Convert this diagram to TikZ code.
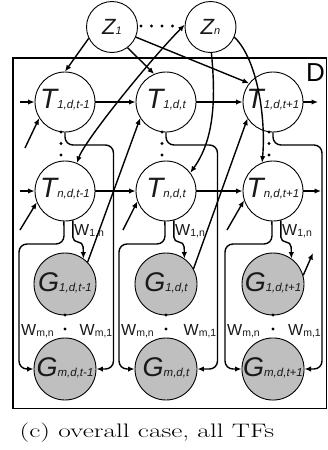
\documentclass[tikz,border=0pt]{standalone}
\usepackage{fontspec}
\newfontfamily\labfont{Liberation Sans}
\usetikzlibrary{arrows.meta}

% variable name: big italic letter followed by a small italic index
\newcommand\nodelab[4]{{\labfont\itshape\fontsize{#1}{#1}\selectfont #2}{\labfont\itshape\fontsize{#3}{#3}\selectfont #4}}
% edge weight label W with lowered index
\newcommand\wlab[1]{{\labfont\fontsize{16}{16}\selectfont W\raisebox{-1.3pt}{\fontsize{10.5}{10.5}\selectfont #1}}}

\begin{document}
\begin{tikzpicture}[x=1pt,y=-1pt,
  tnode/.style={circle,draw,line width=0.9pt,fill=white,minimum size=60pt,inner sep=0pt,
    text height=14pt,text depth=2pt,text=black!90},
  gnode/.style={circle,draw,line width=0.9pt,fill=black!25,minimum size=62pt,inner sep=0pt,
    text height=16pt,text depth=2pt,text=black!90},
  znode/.style={circle,draw,line width=0.9pt,fill=white,minimum size=51pt,inner sep=0pt,
    text height=14pt,text depth=0pt,text=black!90},
  edge/.style={line width=1.4pt,-{Latex[length=6.5pt,width=5.5pt]}},
  biedge/.style={line width=1.4pt,{Latex[length=6.5pt,width=5.5pt]}-{Latex[length=6.5pt,width=5.5pt]}},
  rail/.style={edge,rounded corners=8pt},
  wl/.style={inner sep=0pt,text=black!90}
]
\useasboundingbox (0,0) rectangle (328,450);

% plate D
\draw[line width=1.3pt] (13,58) rectangle (326.5,408.5);
\node[inner sep=0pt] (D) at (315.5,72.5) {\labfont\fontsize{26}{26}\selectfont D};

% hidden factors
\node[znode] (Z1) at (112,27) {\nodelab{22}{Z}{11}{1}};
\node[znode] (Zn) at (210.5,27) {\nodelab{22}{Z}{11}{n}};
\foreach \px in {141,151.5,162,172.5} \fill (\px,26) circle (1.6pt);

% time slices: TF nodes and gene nodes
\foreach \c/\x/\s in {a/65/{t-1}, b/166/t, c/273/{t+1}}{
  \node[tnode] (T1\c) at (\x,102) {\nodelab{28}{T}{11.5}{1,d,\s}};
  \node[tnode] (Tn\c) at (\x,191) {\nodelab{28}{T}{11.5}{n,d,\s}};
  \node[gnode] (G1\c) at (\x,284) {\nodelab{27}{G}{11.5}{1,d,\s}};
  \node[gnode] (Gm\c) at (\x,369) {\nodelab{27}{G}{11.5}{m,d,\s}};
  \fill (\x-4,132) circle (1.7pt) (\x-4,143.5) circle (1.7pt) (\x-4,155) circle (1.7pt);
  \fill (\x,315) circle (1.7pt) (\x,329) circle (1.7pt);
}

% regulation rails inside each slice
\foreach \c/\x/\l/\r in {a/65/19/113.5, b/166/119/217.5, c/273/225/322}{
  \draw[rail] (T1\c.south) -- (\x,145) -- (\r,145) -- (\r,369) -- (Gm\c.east);
  \draw[rail] (Tn\c.268) -- (\x-1,244) -- (\l,244) -- (\l,369) -- (Gm\c.west);
  \draw[rail,rounded corners=5pt] (Tn\c.-75) |- (\x+18,242) -- (G1\c.54.5);
  \node[wl,anchor=west] (w1n\c) at (\x+9,231) {\wlab{1,n}};
  \node[wl,anchor=west] (wmn\c) at (\l+2,331.5) {\wlab{m,n}};
  \node[wl,anchor=east] (wm1\c) at (\r-1,331.5) {\wlab{m,1}};
}

% temporal chains
\coordinate (in1) at (20,102);
\coordinate (out1) at (318,102);
\coordinate (inn) at (20,191);
\coordinate (outn) at (321,191);
\draw[edge] (in1) -- (T1a);
\draw[edge] (T1a) -- (T1b);
\draw[edge] (T1b) -- (T1c);
\draw[edge] (T1c) -- (out1);
\draw[edge] (inn) -- (Tna);
\draw[edge] (Tna) -- (Tnb);
\draw[edge] (Tnb) -- (Tnc);
\draw[edge] (Tnc) -- (outn);

% feedback from genes of the previous slice
\coordinate (s1a) at (25,148);
\coordinate (sna) at (20,230);
\coordinate (snb) at (123,230);
\coordinate (snc) at (227,230);
\coordinate (g1out) at (313,253);
\draw[edge] (s1a) -- (T1a.212);
\draw[edge] (sna) -- (Tna.202);
\draw[edge] (snb) -- (Tnb.200);
\draw[edge] (snc) -- (Tnc.198);
\draw[edge] (G1a.44) -- (T1b.212);
\draw[edge] (G1b.29) -- (T1c.213);
\draw[edge] (G1c.16) -- (g1out);

% hidden factor influences
\draw[edge] (Z1.206) -- (T1a.90);
\draw[edge] (Z1.-53) -- (T1b.113);
\draw[edge] (Z1.-23) -- (T1c.142);
\draw[biedge] (Tna.67) .. controls (85,140) and (150,60) .. (Zn.175);
\draw[edge] (Zn.-88) .. controls (216,100) and (214,140) .. (Tnb.37);
\draw[edge] (Zn.-23) .. controls (258,60) and (266,120) .. (Tnc.111);

% caption
\node[font=\fontsize{19.5}{19.5}\selectfont,xscale=1.4] (caption) at (147,432.5) {(c) overall case, all TFs};
\end{tikzpicture}
\end{document}
